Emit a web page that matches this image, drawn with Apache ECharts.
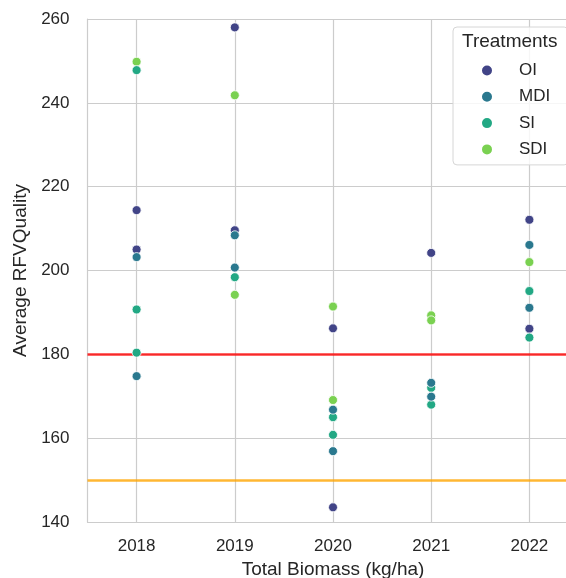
<!DOCTYPE html>
<html>
<head>
<meta charset="utf-8">
<script src="https://cdn.jsdelivr.net/npm/echarts@6/dist/echarts.min.js"></script>
<style>
  html, body { margin: 0; padding: 0; background: #ffffff; }
  #chart { width: 566px; height: 578px; }
</style>
</head>
<body>
<div id="chart"></div>
<script>
// Harvest years on the horizontal axis
const years = ['2018', '2019', '2020', '2021', '2022'];

// Treatment names, in legend order
const treatments = ['OI', 'MDI', 'SI', 'SDI'];

// Average RFV quality per plot, as [year, value]
const oiValues = [
  ['2018', 214.4], ['2018', 205.0],
  ['2019', 258.0], ['2019', 209.6],
  ['2020', 186.2], ['2020', 143.5],
  ['2021', 204.2],
  ['2022', 212.1], ['2022', 186.1]
];
const mdiValues = [
  ['2018', 203.2], ['2018', 174.8],
  ['2019', 208.4], ['2019', 200.7],
  ['2020', 166.8], ['2020', 156.9],
  ['2021', 173.2], ['2021', 169.9],
  ['2022', 206.1], ['2022', 191.1]
];
const siValues = [
  ['2018', 247.8], ['2018', 190.7], ['2018', 180.4],
  ['2019', 198.4],
  ['2020', 165.0], ['2020', 160.8],
  ['2021', 172.0], ['2021', 168.0],
  ['2022', 195.1], ['2022', 184.0]
];
const sdiValues = [
  ['2018', 249.8],
  ['2019', 241.8], ['2019', 194.2],
  ['2020', 191.4], ['2020', 169.1],
  ['2021', 189.3], ['2021', 188.1],
  ['2022', 202.0]
];

// Reference quality thresholds
const thresholdValues = [180, 150];

// Value axis range and tick step
const yMin = 140;
const yMax = 260;
const yStep = 20;

const palette = { OI: '#414487', MDI: '#2a788e', SI: '#22a884', SDI: '#7ad151' };
const thresholdColors = ['rgba(255,0,0,0.8)', 'rgba(255,165,0,0.8)'];
const valuesByTreatment = { OI: oiValues, MDI: mdiValues, SI: siValues, SDI: sdiValues };

const FONT = "'Liberation Sans', Arial, sans-serif";
const TEXT = '#262626';
const GRID = '#cccccc';

// Draw order: later series sit on top where points overlap
const drawOrder = ['OI', 'SDI', 'SI', 'MDI'];

const pointSeries = drawOrder.map(name => ({
  name: name,
  type: 'scatter',
  z: 2,
  symbol: 'circle',
  symbolSize: 9,
  itemStyle: { color: palette[name], borderColor: '#ffffff', borderWidth: 0.8, opacity: 1 },
  emphasis: { disabled: true },
  data: valuesByTreatment[name]
}));

// Helper series carrying the vertical grid lines and the threshold lines
const guideSeries = {
  name: 'guides',
  type: 'scatter',
  z: 1,
  silent: true,
  data: [],
  markLine: {
    z: 1,
    silent: true,
    symbol: 'none',
    label: { show: false },
    emphasis: { disabled: true },
    animation: false,
    data: [
      ...years.map(y => ({ xAxis: y, lineStyle: { color: GRID, width: 1.2, type: 'solid' } })),
      ...thresholdValues.map((v, i) => ({ yAxis: v, lineStyle: { color: thresholdColors[i], width: 2.6, type: 'solid' } }))
    ]
  }
};

const chart = echarts.init(document.getElementById('chart'), null, { renderer: 'canvas' });
chart.setOption({
  animation: false,
  backgroundColor: '#ffffff',
  textStyle: { fontFamily: FONT },
  grid: { left: 87.5, top: 19, width: 491, height: 503, containLabel: false, outerBoundsMode: 'none' },
  title: {
    text: 'Treatments',
    left: 462,
    top: 32,
    padding: 0,
    z: 10,
    textStyle: { fontFamily: FONT, fontSize: 19, fontWeight: 'normal', color: TEXT }
  },
  legend: {
    data: treatments,
    orient: 'vertical',
    left: 453,
    top: 27,
    padding: [35, 18, 7, 27],
    itemWidth: 12,
    itemHeight: 12,
    itemGap: 9.3,
    icon: 'circle',
    backgroundColor: 'rgba(255,255,255,0.82)',
    borderColor: '#d6d6d6',
    borderWidth: 1,
    borderRadius: 4,
    selectedMode: false,
    textStyle: { fontFamily: FONT, fontSize: 17, color: TEXT, lineHeight: 16, padding: [0, 0, 0, 21] }
  },
  xAxis: {
    type: 'category',
    data: years,
    boundaryGap: true,
    name: 'Total Biomass (kg/ha)',
    nameLocation: 'middle',
    nameGap: 34,
    nameTextStyle: { fontFamily: FONT, fontSize: 19, color: TEXT },
    axisLine: { show: true, lineStyle: { color: GRID, width: 1.2 } },
    axisTick: { show: false },
    splitLine: { show: false },
    axisLabel: { fontFamily: FONT, fontSize: 17, color: TEXT, margin: 16 }
  },
  yAxis: {
    type: 'value',
    min: yMin,
    max: yMax,
    interval: yStep,
    name: 'Average RFVQuality',
    nameLocation: 'middle',
    nameGap: 52,
    nameTextStyle: { fontFamily: FONT, fontSize: 19, color: TEXT },
    axisLine: { show: true, lineStyle: { color: GRID, width: 1.2 } },
    axisTick: { show: false },
    splitLine: { show: true, lineStyle: { color: GRID, width: 1.2 } },
    axisLabel: { fontFamily: FONT, fontSize: 17, color: TEXT, margin: 18 }
  },
  series: [guideSeries, ...pointSeries]
});
</script>
</body>
</html>
